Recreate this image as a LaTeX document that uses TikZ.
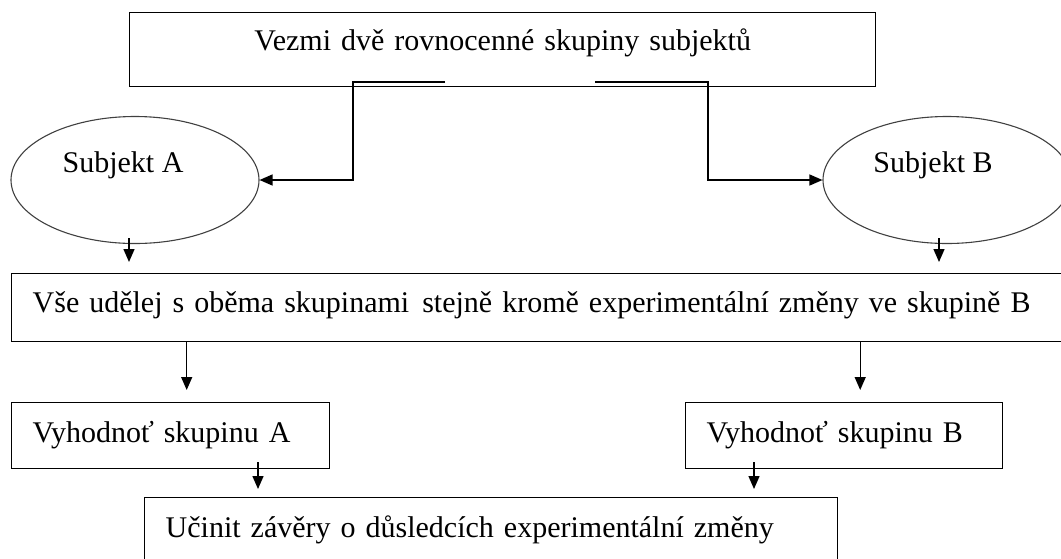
\documentclass[tikz,border=0pt]{standalone}
\usepackage{fontspec}
\setmainfont{Liberation Serif}
\usetikzlibrary{arrows.meta,shapes}

\begin{document}
\begin{tikzpicture}[x=1pt, y=-1pt, font=\fontsize{30}{36}\selectfont,
  box/.style={draw, line width=1.4pt, rectangle, anchor=north west, inner xsep=21pt, inner ysep=0pt, align=left},
  oval/.style={draw=black!75, line width=1.1pt, ellipse, minimum width=248pt, minimum height=127pt, inner sep=0pt},
  arr/.style={-{Triangle[length=13pt,width=11pt]}, line width=1.4pt}]
\clip (0,0) rectangle (1061,558);
\node[box, align=center, text width=704pt, text height=38pt, text depth=36pt] (top) at (129,12) {Vezmi dvě rovnocenné skupiny subjektů};
\node[oval] (subA) at (135,180) {};
\node[oval] (subB) at (947,180) {};
\node[anchor=base] (lblA) at (123,172) {Subjekt A};
\node[anchor=base] (lblB) at (933,172) {Subjekt B};
\node[box, text width=1011pt, text height=39pt, text depth=29pt] (all) at (11,273) {Vše udělej s oběma skupinami\hspace{3pt} stejně kromě experimentální změny ve skupině B};
\node[box, text width=276pt, text height=40pt, text depth=26pt] (evalA) at (11,402) {Vyhodnoť skupinu A};
\node[box, text width=275pt, text height=40pt, text depth=26pt] (evalB) at (685,402) {Vyhodnoť skupinu B};
\node[box, text width=651pt, text height=40pt, text depth=40pt] (concl) at (144,497) {Učinit závěry o důsledcích experimentální změny};
\coordinate (forkA) at (445,82);
\coordinate (forkB) at (595,82);
\coordinate (downA) at (129,238);
\coordinate (downB) at (939,238);
\coordinate (splitA) at ([xshift=16pt]evalA.north);
\coordinate (splitB) at ([xshift=16pt]evalB.north);
\coordinate (joinA) at (258,462);
\coordinate (joinB) at (754,462);
\draw[arr] (forkA) -- ++(-92,0) |- (subA.east);
\draw[arr] (forkB) -- ++(113,0) |- (subB.west);
\draw[arr, shorten >=11pt] (downA) -- (downA |- all.north);
\draw[arr, shorten >=11pt] (downB) -- (downB |- all.north);
\draw[arr, shorten >=12pt] (splitA |- all.south) -- (splitA);
\draw[arr, shorten >=12pt] (splitB |- all.south) -- (splitB);
\draw[arr, shorten >=8pt] (joinA) -- (joinA |- concl.north);
\draw[arr, shorten >=8pt] (joinB) -- (joinB |- concl.north);
\end{tikzpicture}
\end{document}
